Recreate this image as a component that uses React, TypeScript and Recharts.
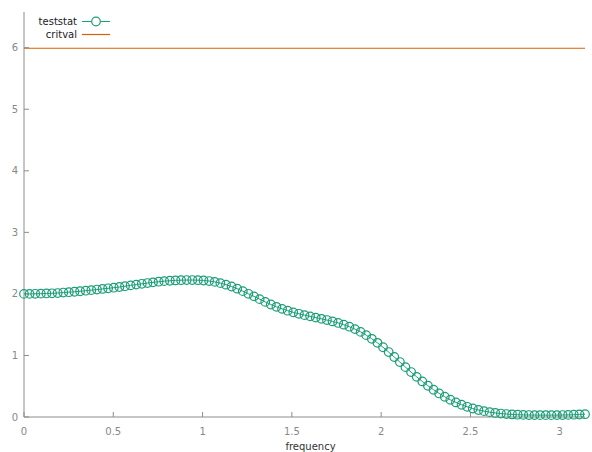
import { Line, LineChart, XAxis, YAxis } from "recharts";

const frequency = [
    0, 0.0314, 0.0628, 0.0942, 0.1257, 0.1571, 0.1885, 0.2199, 0.2513, 0.2827,
    0.3142, 0.3456, 0.377, 0.4084, 0.4398, 0.4712, 0.5027, 0.5341, 0.5655, 0.5969,
    0.6283, 0.6597, 0.6912, 0.7226, 0.754, 0.7854, 0.8168, 0.8482, 0.8796, 0.9111,
    0.9425, 0.9739, 1.0053, 1.0367, 1.0681, 1.0996, 1.131, 1.1624, 1.1938, 1.2252,
    1.2566, 1.2881, 1.3195, 1.3509, 1.3823, 1.4137, 1.4451, 1.4765, 1.508, 1.5394,
    1.5708, 1.6022, 1.6336, 1.665, 1.6965, 1.7279, 1.7593, 1.7907, 1.8221, 1.8535,
    1.885, 1.9164, 1.9478, 1.9792, 2.0106, 2.042, 2.0735, 2.1049, 2.1363, 2.1677,
    2.1991, 2.2305, 2.2619, 2.2934, 2.3248, 2.3562, 2.3876, 2.419, 2.4504, 2.4819,
    2.5133, 2.5447, 2.5761, 2.6075, 2.6389, 2.6704, 2.7018, 2.7332, 2.7646, 2.796,
    2.8274, 2.8588, 2.8903, 2.9217, 2.9531, 2.9845, 3.0159, 3.0473, 3.0788, 3.1102,
    3.1416,
];

const teststat = [
    2.0, 2.0, 2.002, 2.004, 2.007, 2.01, 2.014, 2.022, 2.028, 2.035,
    2.043, 2.052, 2.061, 2.071, 2.081, 2.091, 2.101, 2.112, 2.125, 2.138,
    2.151, 2.164, 2.176, 2.188, 2.198, 2.207, 2.214, 2.219, 2.223, 2.225,
    2.225, 2.223, 2.218, 2.209, 2.195, 2.175, 2.15, 2.12, 2.085, 2.045,
    2.002, 1.96, 1.915, 1.87, 1.828, 1.79, 1.757, 1.727, 1.7, 1.677,
    1.655, 1.635, 1.615, 1.595, 1.575, 1.553, 1.528, 1.5, 1.467, 1.428,
    1.383, 1.33, 1.27, 1.205, 1.133, 1.055, 0.975, 0.893, 0.81, 0.73,
    0.652, 0.578, 0.508, 0.443, 0.383, 0.329, 0.28, 0.237, 0.199, 0.166,
    0.138, 0.114, 0.095, 0.079, 0.066, 0.056, 0.048, 0.042, 0.037, 0.034,
    0.032, 0.031, 0.03, 0.03, 0.03, 0.031, 0.032, 0.034, 0.037, 0.041,
    0.046,
];

const critval = 5.991;

const xTicks = [0, 0.5, 1, 1.5, 2, 2.5, 3];
const yTicks = [0, 1, 2, 3, 4, 5, 6];

const GREEN = "#1b9e77";
const ORANGE = "#d95f02";
const AXIS = "#8c8c8c";
const FONT = "'DejaVu Sans', sans-serif";

const chartData = frequency.map((f, i) => ({
    frequency: f,
    teststat: teststat[i],
    critval,
}));

// legend sits on top of the plot, like gnuplot's "key top left"
function LegendBox() {
    return (
        <svg
            width={90}
            height={30}
            style={{ position: "absolute", left: 30, top: 14, display: "block" }}>
            <text x={47} y={11} textAnchor="end" fontSize={10} fill="#222" fontFamily={FONT}>
                teststat
            </text>
            <line x1={52} x2={80} y1={7.5} y2={7.5} stroke={GREEN} strokeWidth={1} />
            <circle cx={66} cy={7.5} r={4.3} fill="#fff" stroke={GREEN} strokeWidth={1.2} />
            <text x={47} y={24} textAnchor="end" fontSize={10} fill="#222" fontFamily={FONT}>
                critval
            </text>
            <line x1={52} x2={80} y1={20.5} y2={20.5} stroke={ORANGE} strokeWidth={1.2} />
        </svg>
    );
}

export default function App() {
    return (
        <div style={{ position: "absolute", left: 0, top: 0, width: 592, height: 452, background: "#fff" }}>
            <LineChart
                width={592}
                height={452}
                data={chartData}
                margin={{ top: 12, right: 7, left: 0, bottom: 0 }}>
                <XAxis
                    dataKey="frequency"
                    type="number"
                    domain={[0, 3.1416]}
                    ticks={xTicks}
                    height={35}
                    stroke={AXIS}
                    tickSize={-5}
                    tickMargin={16}
                    tick={{ fontSize: 10, fill: "#888", fontFamily: FONT }}
                    label={{
                        value: "frequency",
                        position: "insideBottom",
                        offset: 2,
                        dx: 6,
                        fontSize: 10,
                        fill: "#333",
                        fontFamily: FONT,
                    }}
                />
                <YAxis
                    type="number"
                    domain={[0, 6.58]}
                    ticks={yTicks}
                    width={24}
                    stroke={AXIS}
                    tickSize={-5}
                    tickMargin={11}
                    tick={{ fontSize: 10, fill: "#888", fontFamily: FONT }}
                />
                <Line
                    dataKey="critval"
                    stroke={ORANGE}
                    strokeWidth={1.2}
                    dot={false}
                    isAnimationActive={false}
                />
                <Line
                    dataKey="teststat"
                    stroke={GREEN}
                    strokeWidth={1}
                    dot={{ r: 4.3, fill: "none", stroke: GREEN, strokeWidth: 1.2 }}
                    isAnimationActive={false}
                />
            </LineChart>
            <LegendBox />
        </div>
    );
}
